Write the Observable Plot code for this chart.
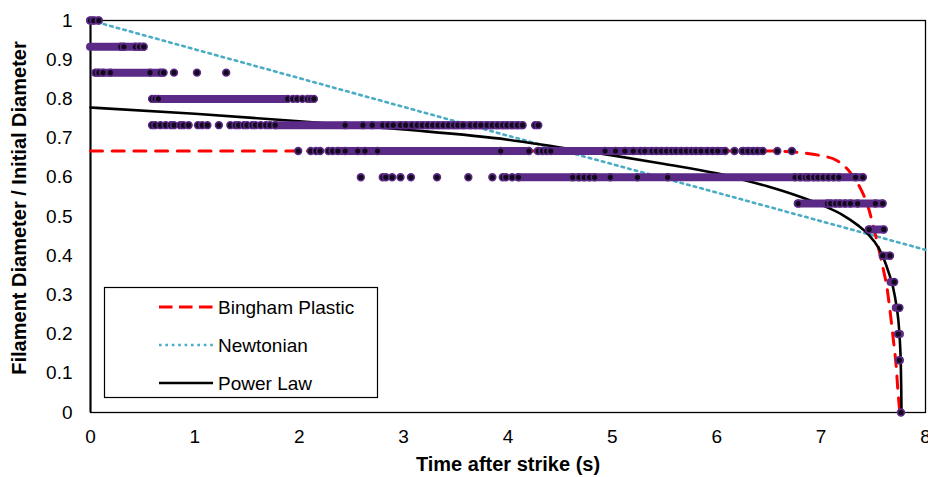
<!DOCTYPE html>
<html>
<head>
<meta charset="utf-8">
<script src="https://cdn.jsdelivr.net/npm/d3@7"></script>
<script src="https://cdn.jsdelivr.net/npm/@observablehq/plot@0.6"></script>
<style>
  body { margin: 0; background: #fff; }
  #chart { width: 928px; height: 477px; }
</style>
</head>
<body>
<div id="chart"></div>
<script>
// ---- Axis ticks ----
const xTicks = [0, 1, 2, 3, 4, 5, 6, 7, 8];
const yTicks = [0, 0.1, 0.2, 0.3, 0.4, 0.5, 0.6, 0.7, 0.8, 0.9, 1];

// ---- Measured data: dense runs of points (level, first t, last t) ----
const bandLevel = [1, 0.933, 0.867, 0.8, 0.733, 0.667, 0.667, 0.667, 0.6, 0.533, 0.467, 0.4, 0.333, 0.267, 0.2, 0.133];
const bandStart = [0, 0, 0.05, 0.68, 1.77, 2.37, 4.29, 6.25, 4.10, 6.78, 7.46, 7.60, 7.67, 7.72, 7.74, 7.75];
const bandEnd   = [0.08, 0.51, 0.70, 1.89, 4.14, 4.20, 6.08, 6.44, 7.40, 7.59, 7.60, 7.66, 7.70, 7.75, 7.76, 7.76];

// ---- Measured data: individual points per level ----
const pointLevels = [1, 0.933, 0.867, 0.8, 0.733, 0.667, 0.6, 0.533, 0.467, 0.4, 0.333, 0.267, 0.2, 0.133, 0];
const pointTimes = [
  [0, 0.03, 0.08],
  [0.29, 0.32, 0.43, 0.47, 0.51],
  [0.05, 0.08, 0.12, 0.19, 0.57, 0.67, 0.70, 0.80, 1.02, 1.30],
  [0.59, 0.62, 0.65, 1.89, 1.94, 1.98, 2.03, 2.08, 2.11, 2.14],
  [0.59, 0.62, 0.67, 0.72, 0.77, 0.80, 0.86, 0.89, 0.94, 1.03, 1.07, 1.12, 1.23, 1.34, 1.39, 1.42, 1.47, 1.50, 1.55, 1.58, 1.63, 1.68, 1.72, 1.77,
   2.44, 2.61, 2.70, 2.80, 2.85, 2.90, 2.97, 3.02, 3.08, 3.13, 3.18, 3.23, 3.28, 3.33, 3.38, 3.43, 3.48, 3.52, 3.57, 3.64, 3.69, 3.74, 3.80, 3.85, 3.90, 3.95, 3.99, 4.04, 4.09, 4.14, 4.26, 4.29],
  [1.99, 2.11, 2.16, 2.20, 2.28, 2.32, 2.37, 2.44, 2.56, 2.63, 2.75, 3.93, 4.20, 4.29, 4.33, 4.37, 4.41,
   4.93, 5.03, 5.12, 5.20, 5.27, 5.31, 5.38, 5.42, 5.47, 5.52, 5.57, 5.61, 5.66, 5.71, 5.76, 5.80, 5.85, 5.91, 5.96, 6.01, 6.08,
   6.17, 6.25, 6.30, 6.35, 6.39, 6.44, 6.58, 6.72],
  [2.59, 2.80, 2.83, 2.89, 2.97, 3.07, 3.32, 3.62, 3.85, 3.95, 3.98, 4.04, 4.10, 4.62, 4.68, 4.73, 4.78, 4.83, 4.98, 5.24, 5.53,
   6.75, 6.80, 6.85, 6.88, 6.93, 6.97, 7.02, 7.07, 7.12, 7.17, 7.33, 7.40],
  [6.78, 7.06, 7.09, 7.14, 7.18, 7.23, 7.28, 7.35, 7.52, 7.59],
  [7.46, 7.60],
  [7.59, 7.66],
  [7.70],
  [7.75],
  [7.74],
  [7.75],
  [7.765]
];

// ---- Model curves ----
const binghamT = [0, 6.5, 6.87, 7.0, 7.15, 7.28, 7.38, 7.45, 7.50, 7.55, 7.60, 7.63, 7.66, 7.69, 7.72, 7.74, 7.755];
const binghamV = [0.667, 0.667, 0.661, 0.655, 0.643, 0.612, 0.570, 0.525, 0.475, 0.42, 0.36, 0.32, 0.26, 0.19, 0.115, 0.04, 0];

const newtonT = [0, 2, 4, 6, 8];
const newtonV = [1.0, 0.853, 0.706, 0.561, 0.415];

const powerT = [0, 1, 2, 3, 4, 4.5, 5, 5.5, 6, 6.25, 6.5, 6.75, 7.0, 7.2, 7.35, 7.45, 7.55, 7.60, 7.65, 7.69, 7.72, 7.74, 7.755, 7.762, 7.767, 7.77];
const powerV = [0.778, 0.762, 0.743, 0.722, 0.696, 0.676, 0.656, 0.634, 0.610, 0.594, 0.576, 0.555, 0.530, 0.505, 0.478, 0.455, 0.420, 0.392, 0.355, 0.318, 0.275, 0.235, 0.180, 0.135, 0.070, 0];

// ---- Legend entries ----
const legendNames = ["Bingham Plastic", "Newtonian", "Power Law"];

// ---- Build tables ----
const bands = bandLevel.map((v, i) => ({v, t1: bandStart[i], t2: bandEnd[i]}));
const points = pointLevels.flatMap((v, i) => pointTimes[i].map(t => ({t, v})));
const bingham = binghamT.map((t, i) => ({t, v: binghamV[i]}));
const newton = newtonT.map((t, i) => ({t, v: newtonV[i]}));
const power = powerT.map((t, i) => ({t, v: powerV[i]}));

const purple = "#5B2A86";
const FONT = "'Liberation Sans', Arial, sans-serif";

const svg = Plot.plot({
  width: 928,
  height: 477,
  marginLeft: 90,
  marginRight: 3,
  marginTop: 20,
  marginBottom: 65,
  style: {fontFamily: FONT, fontSize: "19px", color: "#000", background: "#fff"},
  x: {domain: [0, 8], ticks: xTicks, tickFormat: d => String(d), tickSize: 0, tickPadding: 17, label: null},
  y: {domain: [0, 1], ticks: yTicks, tickFormat: d => String(+d.toFixed(1)), tickSize: 0, tickPadding: 18, label: null},
  marks: [
    Plot.frame({stroke: "#000", strokeWidth: 1.3}),
    Plot.ruleX([0], {stroke: "#000", strokeWidth: 2}),
    Plot.line(newton, {x: "t", y: "v", stroke: "#4BACC6", strokeWidth: 2.6, strokeDasharray: "2.6,4.2"}),
    Plot.line(bingham, {x: "t", y: "v", stroke: "#FF0000", strokeWidth: 3, strokeDasharray: "12,9.7", curve: "monotone-x"}),
    Plot.line(power, {x: "t", y: "v", stroke: "#000", strokeWidth: 2.6, curve: "monotone-x"}),
    Plot.ruleY(bands, {y: "v", x1: "t1", x2: "t2", stroke: purple, strokeWidth: 8, strokeLinecap: "round"}),
    Plot.dot(points, {x: "t", y: "v", r: 3.4, fill: "#120a1c", stroke: purple, strokeWidth: 1.6})
  ]
});

document.getElementById("chart").appendChild(svg);

const s = d3.select(svg);
// Axis titles
s.append("text")
  .attr("x", 508).attr("y", 471)
  .attr("text-anchor", "middle")
  .attr("font-family", FONT).attr("font-weight", "bold").attr("font-size", 20)
  .attr("fill", "#000")
  .text("Time after strike (s)");
s.append("text")
  .attr("transform", "translate(26,208) rotate(-90)")
  .attr("text-anchor", "middle")
  .attr("font-family", FONT).attr("font-weight", "bold").attr("font-size", 20)
  .attr("fill", "#000")
  .text("Filament Diameter / Initial Diameter");

// Legend
const lg = s.append("g");
lg.append("rect").attr("x", 104.5).attr("y", 287.5).attr("width", 273).attr("height", 110)
  .attr("fill", "#fff").attr("stroke", "#000").attr("stroke-width", 1.2);
const legendY = [307, 345, 383];
const legendStyle = [
  {stroke: "#FF0000", width: 3, dash: "13.5,6.5"},
  {stroke: "#4BACC6", width: 2.6, dash: "2.6,3.8"},
  {stroke: "#000", width: 2.6, dash: null}
];
legendNames.forEach((name, i) => {
  const ln = lg.append("line").attr("x1", 159).attr("x2", 213)
    .attr("y1", legendY[i]).attr("y2", legendY[i])
    .attr("stroke", legendStyle[i].stroke).attr("stroke-width", legendStyle[i].width);
  if (legendStyle[i].dash) ln.attr("stroke-dasharray", legendStyle[i].dash);
  lg.append("text").attr("x", 218).attr("y", legendY[i] + 6.5)
    .attr("text-anchor", "start")
    .attr("font-family", FONT).attr("font-size", 19).attr("fill", "#000")
    .text(name);
});
</script>
</body>
</html>
